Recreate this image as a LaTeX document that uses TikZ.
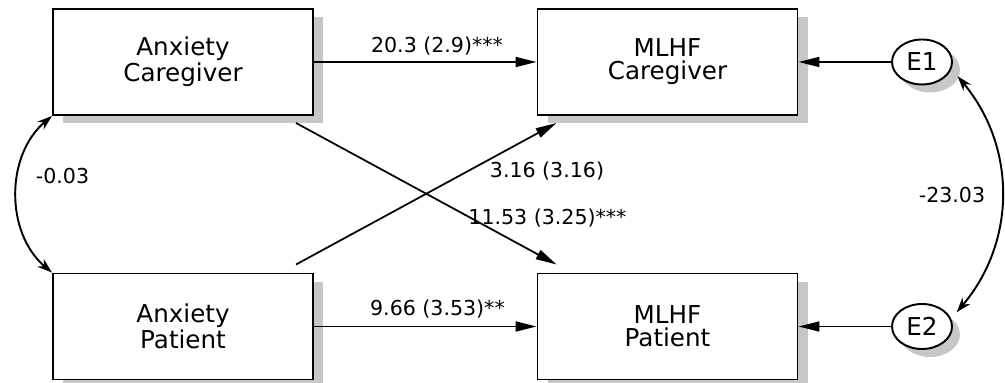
\documentclass[tikz,border=0pt]{standalone}
\usepackage{fontspec}
\setmainfont{DejaVu Sans}
\usetikzlibrary{arrows.meta,shadows,shapes.geometric}

\begin{document}
\begin{tikzpicture}
\tikzset{boite/.style={draw, fill=white, line width=1.1pt, minimum width=5.2cm, minimum height=2.12cm, align=center, font=\fontsize{14}{13}\selectfont, drop shadow={shadow xshift=0.2cm, shadow yshift=-0.17cm, fill=black!22, opacity=1}},
erreur/.style={draw, ellipse, fill=white, line width=1.1pt, minimum width=1.2cm, minimum height=0.9cm, inner sep=0pt, font=\fontsize{14}{14}\selectfont, drop shadow={shadow xshift=0.16cm, shadow yshift=-0.16cm, fill=black!22, opacity=1}},
fleche/.style={line width=1pt, -{Triangle[length=0.42cm,width=0.2cm]}},
covar/.style={line width=1.1pt, {Stealth[length=0.3cm,width=0.2cm]}-{Stealth[length=0.3cm,width=0.2cm]}},
coef/.style={font=\fontsize{11.7}{14}\selectfont, inner sep=1pt}}
\useasboundingbox (0,0) rectangle (20.1,-7.66);
\node[boite] (AC) at (3.66,-1.24) {Anxiety\\Caregiver};
\node[boite] (AP) at (3.66,-6.53) {Anxiety\\Patient};
\node[boite] (MC) at (13.35,-1.24) {MLHF\\Caregiver};
\node[boite] (MP) at (13.35,-6.53) {MLHF\\Patient};
\node[erreur] (E1) at (18.44,-1.24) {E1};
\node[erreur] (E2) at (18.44,-6.53) {E2};
\draw[fleche] (AC) -- (MC);
\draw[fleche] (AP) -- (MP);
\draw[fleche] (E1) -- (MC);
\draw[fleche] (E2) -- (MP);
\draw[fleche] ([xshift=-0.36cm,yshift=-0.14cm]AC.south east) -- ([xshift=0.4cm,yshift=0.16cm]MP.north west);
\draw[fleche] ([xshift=-0.36cm,yshift=0.16cm]AP.north east) -- ([xshift=0.4cm,yshift=-0.14cm]MC.south west);
\draw[covar] (AC.south west) to[bend right=50] (AP.north west);
\draw[covar] ([xshift=0.22cm]E1.-30) to[bend left=40] ([xshift=0.2cm]E2.30);
\node[coef] (L1) at (8.74,-0.92) {20.3 (2.9)***};
\node[coef] (L2) at (8.75,-6.18) {9.66 (3.53)**};
\node[coef] (L3) at (10.94,-3.42) {3.16 (3.16)};
\node[coef] (L4) at (10.95,-4.36) {11.53 (3.25)***};
\node[coef] (L5) at (1.25,-3.52) {-0.03};
\node[coef] (L6) at (19.04,-3.9) {-23.03};
\end{tikzpicture}
\end{document}
